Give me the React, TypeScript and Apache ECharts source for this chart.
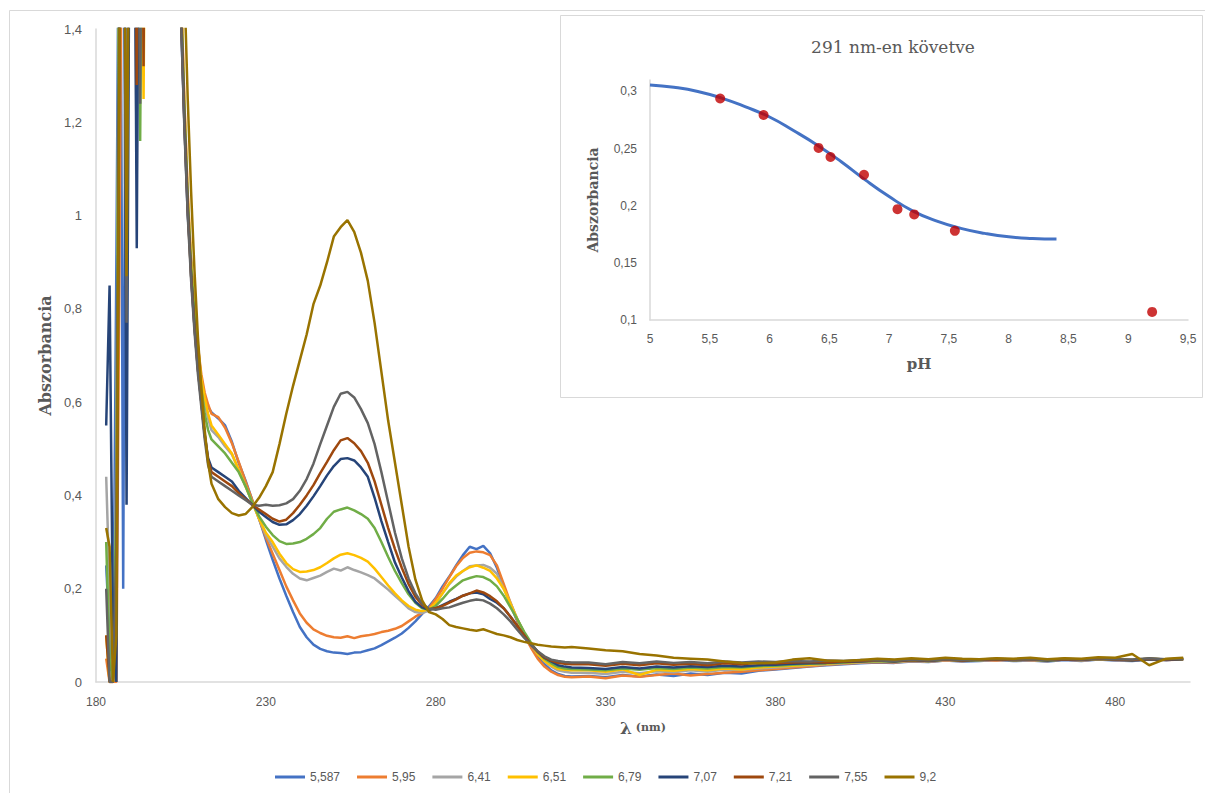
import React, { useEffect, useRef } from 'react';
import * as echarts from 'echarts';

// Wavelengths (nm)
const wavelengths = [
  183, 184, 185, 186, 187, 188, 189, 190, 191, 192, 193, 194, 195, 196,
  198, 200, 202, 204,
  205, 206, 207, 208, 209, 210, 211, 212, 213,
  214,
  216, 218, 220, 222, 224, 226, 228, 230, 232, 234,
  236, 238, 240, 242, 244, 246, 248, 250, 252, 254,
  256, 258, 260, 262, 264, 266, 268, 270, 272, 274,
  276, 278, 280, 282, 284, 286, 288, 290, 292, 294,
  296, 298, 300, 302, 304, 306, 308, 310, 312, 314,
  316, 318, 320,
  325, 330, 335, 340, 345, 350, 355, 360, 365, 370,
  375, 380, 385, 390, 395, 400, 405, 410, 415, 420,
  425, 430, 435, 440, 445, 450, 455, 460, 465, 470,
  475, 480, 485, 490, 495, 500,
];

const abs5587 = [
  0.25, 0.1, 0, 0.9, 2.0, 0.2, 1.9, 2.3, 2.0, 2.4, 2.2, 2.5, 2.6, 2.6,
  2.6, 2.6, 2.6, 2.6,
  1.42, 1.2, 1.0, 0.9, 0.78, 0.7, 0.645, 0.612, 0.59,
  0.578,
  0.565, 0.55, 0.515, 0.47, 0.432, 0.39, 0.35, 0.305, 0.262, 0.222,
  0.185, 0.15, 0.118, 0.096, 0.08, 0.071, 0.066, 0.063, 0.062, 0.06,
  0.063, 0.064, 0.068, 0.072, 0.079, 0.087, 0.095, 0.104, 0.116, 0.13,
  0.146, 0.162, 0.18, 0.205, 0.226, 0.25, 0.272, 0.29, 0.285, 0.292,
  0.276, 0.245, 0.205, 0.165, 0.13, 0.1, 0.077, 0.055, 0.038, 0.025,
  0.017, 0.013, 0.012,
  0.013, 0.01, 0.015, 0.012, 0.016, 0.013, 0.018, 0.015, 0.02, 0.018,
  0.024, 0.027, 0.03, 0.033, 0.036, 0.038, 0.04, 0.042, 0.041, 0.044,
  0.043, 0.046, 0.044, 0.045, 0.047, 0.045, 0.046, 0.044, 0.047, 0.045,
  0.048, 0.046, 0.045, 0.048, 0.047, 0.049,
];

const abs595 = [
  0.05, 0, 0, 0, 1.0, 2.2, 2.0, 2.4, 2.2, 2.5, 2.3, 2.6, 2.4, 2.6,
  2.6, 2.6, 2.6, 2.6,
  1.5, 1.25, 1.05, 0.9, 0.8, 0.72, 0.66, 0.62, 0.595,
  0.575,
  0.568, 0.545, 0.512, 0.472, 0.43, 0.39, 0.35, 0.31, 0.275, 0.24,
  0.205, 0.175, 0.147, 0.127, 0.113, 0.105, 0.099, 0.096, 0.095, 0.098,
  0.094, 0.098, 0.1, 0.103, 0.107, 0.11, 0.114, 0.12, 0.13, 0.14,
  0.148, 0.158, 0.178, 0.2, 0.225, 0.248, 0.266, 0.277, 0.28, 0.278,
  0.272, 0.25, 0.21, 0.17, 0.132, 0.1, 0.074, 0.05, 0.033, 0.022,
  0.015, 0.011, 0.01,
  0.012, 0.008, 0.014, 0.011, 0.015, 0.018, 0.014, 0.017, 0.02, 0.022,
  0.025, 0.028, 0.031, 0.034, 0.037, 0.039, 0.041, 0.043, 0.042, 0.045,
  0.044, 0.046, 0.045, 0.047, 0.046, 0.048, 0.046, 0.045, 0.048, 0.046,
  0.049, 0.047, 0.046, 0.049, 0.047, 0.048,
];

const abs641 = [
  0.44, 0.2, 0, 0.5, 2.0, 2.3, 1.8, 2.1, 1.9, 1.09, 2.2, 2.4, 2.5, 2.6,
  2.6, 2.6, 2.6, 2.6,
  1.46, 1.22, 1.03, 0.89, 0.79, 0.71, 0.64, 0.6, 0.565,
  0.54,
  0.525, 0.505, 0.488, 0.455, 0.42, 0.385, 0.35, 0.315, 0.29, 0.265,
  0.247, 0.232, 0.222, 0.218, 0.223, 0.228, 0.236, 0.243, 0.239, 0.246,
  0.24, 0.235, 0.229, 0.222, 0.21, 0.198, 0.185, 0.172, 0.158, 0.15,
  0.148, 0.153, 0.168, 0.19, 0.21, 0.226, 0.238, 0.248, 0.25, 0.251,
  0.245, 0.232, 0.2, 0.17, 0.135, 0.105, 0.08, 0.06, 0.044, 0.033,
  0.025, 0.022, 0.02,
  0.02, 0.017, 0.022, 0.019, 0.023, 0.021, 0.025, 0.022, 0.027, 0.026,
  0.029, 0.031, 0.034, 0.036, 0.038, 0.04, 0.042, 0.044, 0.043, 0.045,
  0.044, 0.047, 0.045, 0.046, 0.048, 0.046, 0.047, 0.045, 0.048, 0.046,
  0.049, 0.047, 0.046, 0.049, 0.048, 0.05,
];

const abs651 = [
  0.1, 0, 0, 0.3, 1.8, 2.1, 2.3, 1.9, 2.2, 2.4, 2.0, 1.25, 2.3, 2.6,
  2.6, 2.6, 2.6, 2.6,
  1.48, 1.24, 1.04, 0.9, 0.8, 0.72, 0.65, 0.61, 0.575,
  0.55,
  0.53, 0.51, 0.49, 0.455, 0.42, 0.385, 0.35, 0.32, 0.3, 0.275,
  0.255, 0.242, 0.236, 0.237, 0.24, 0.246, 0.255, 0.265, 0.273, 0.276,
  0.272, 0.266, 0.258, 0.243, 0.225, 0.207, 0.19, 0.175, 0.163, 0.155,
  0.152, 0.156, 0.17, 0.19, 0.212, 0.228, 0.238, 0.246, 0.25, 0.245,
  0.238, 0.222, 0.2, 0.168, 0.135, 0.105, 0.082, 0.06, 0.045, 0.035,
  0.028, 0.026, 0.025,
  0.025, 0.022, 0.027, 0.015, 0.026, 0.024, 0.028, 0.025, 0.029, 0.027,
  0.031, 0.033, 0.035, 0.037, 0.039, 0.041, 0.043, 0.045, 0.044, 0.046,
  0.045, 0.048, 0.046, 0.047, 0.049, 0.047, 0.048, 0.046, 0.049, 0.047,
  0.05, 0.048, 0.047, 0.05, 0.048, 0.049,
];

const abs679 = [
  0.3, 0.05, 0, 0.4, 1.9, 2.2, 2.0, 2.3, 2.1, 2.4, 1.16, 2.2, 2.5, 2.6,
  2.6, 2.6, 2.6, 2.6,
  1.47, 1.23, 1.03, 0.89, 0.79, 0.7, 0.63, 0.575, 0.54,
  0.52,
  0.505, 0.49, 0.47, 0.45, 0.42, 0.385, 0.355, 0.333, 0.315, 0.302,
  0.296, 0.297, 0.3, 0.307, 0.317, 0.33, 0.35, 0.365, 0.37, 0.374,
  0.368, 0.36, 0.35, 0.33, 0.3, 0.268, 0.238, 0.212, 0.188, 0.17,
  0.158, 0.155, 0.163, 0.178, 0.195, 0.207, 0.218, 0.223, 0.227, 0.225,
  0.218, 0.205, 0.185, 0.16, 0.135, 0.108, 0.085, 0.064, 0.05, 0.04,
  0.032, 0.029, 0.028,
  0.027, 0.025, 0.029, 0.026, 0.03, 0.028, 0.031, 0.029, 0.032, 0.031,
  0.034, 0.035, 0.037, 0.039, 0.04, 0.042, 0.044, 0.045, 0.044, 0.047,
  0.045, 0.048, 0.046, 0.047, 0.049, 0.047, 0.048, 0.046, 0.049, 0.048,
  0.05, 0.048, 0.047, 0.05, 0.048, 0.05,
];

const abs707 = [
  0.55, 0.85, 0.1, 0, 1.7, 2.1, 0.38, 1.9, 2.2, 0.93, 2.3, 2.4, 2.5, 2.6,
  2.6, 2.6, 2.6, 2.6,
  1.45, 1.21, 1.02, 0.87, 0.76, 0.67, 0.6, 0.53, 0.48,
  0.46,
  0.45, 0.44, 0.43, 0.41, 0.395, 0.38, 0.365, 0.354, 0.343, 0.337,
  0.338, 0.347, 0.36, 0.378, 0.398, 0.42, 0.443, 0.463, 0.478, 0.48,
  0.475, 0.46, 0.44, 0.395, 0.345, 0.3, 0.256, 0.224, 0.195, 0.172,
  0.16, 0.155, 0.158, 0.165, 0.172, 0.178, 0.185, 0.19, 0.192, 0.188,
  0.178, 0.17, 0.158, 0.14, 0.12, 0.1, 0.08, 0.065, 0.052, 0.044,
  0.036, 0.033, 0.031,
  0.03, 0.028, 0.032, 0.029, 0.033, 0.031, 0.034, 0.032, 0.035, 0.033,
  0.036, 0.037, 0.039, 0.04, 0.041, 0.043, 0.044, 0.046, 0.044, 0.047,
  0.045, 0.048, 0.046, 0.047, 0.049, 0.047, 0.048, 0.046, 0.048, 0.047,
  0.05, 0.048, 0.046, 0.049, 0.047, 0.049,
];

const abs721 = [
  0.1, 0, 0, 0.2, 1.5, 2.0, 2.3, 2.1, 2.4, 1.28, 2.5, 1.32, 2.6, 2.6,
  2.6, 2.6, 2.6, 2.6,
  1.44, 1.2, 1.01, 0.87, 0.76, 0.67, 0.6, 0.53, 0.475,
  0.45,
  0.44, 0.43, 0.42, 0.405, 0.392, 0.38, 0.37, 0.36, 0.35, 0.344,
  0.348, 0.362, 0.38, 0.4, 0.422, 0.448, 0.472, 0.497, 0.518, 0.523,
  0.512, 0.495, 0.47, 0.43, 0.38, 0.33, 0.285, 0.245, 0.21, 0.183,
  0.165, 0.156, 0.158, 0.163, 0.17, 0.177, 0.185, 0.19, 0.196, 0.192,
  0.184, 0.173, 0.158, 0.14, 0.12, 0.1, 0.08, 0.065, 0.053, 0.046,
  0.041, 0.039, 0.038,
  0.038, 0.035, 0.039, 0.036, 0.04, 0.037, 0.039, 0.036, 0.04, 0.038,
  0.041, 0.04, 0.042, 0.043, 0.042, 0.044, 0.045, 0.046, 0.045, 0.047,
  0.046, 0.048, 0.046, 0.048, 0.049, 0.047, 0.048, 0.047, 0.049, 0.048,
  0.05, 0.048, 0.047, 0.05, 0.048, 0.05,
];

const abs755 = [
  0.2, 0, 0, 0.3, 1.6, 2.0, 0.77, 2.1, 2.3, 2.2, 1.24, 2.4, 2.5, 2.6,
  2.6, 2.6, 2.6, 2.6,
  1.43, 1.19, 1.0, 0.86, 0.75, 0.66, 0.59, 0.52, 0.465,
  0.44,
  0.43, 0.42, 0.41, 0.4, 0.39, 0.38, 0.378, 0.38, 0.378, 0.379,
  0.383, 0.392, 0.41, 0.435, 0.468, 0.51, 0.55, 0.59, 0.618, 0.622,
  0.61, 0.585, 0.555, 0.51, 0.45, 0.385, 0.32, 0.265, 0.222, 0.19,
  0.168, 0.157, 0.155, 0.158, 0.16, 0.165, 0.17, 0.174, 0.177, 0.175,
  0.168, 0.158, 0.145, 0.13, 0.112, 0.095, 0.08, 0.066, 0.055, 0.048,
  0.045, 0.043, 0.042,
  0.042, 0.038, 0.043, 0.04, 0.044, 0.041, 0.043, 0.04, 0.044, 0.042,
  0.044, 0.043, 0.045, 0.044, 0.046, 0.045, 0.047, 0.046, 0.045, 0.048,
  0.046, 0.049, 0.047, 0.048, 0.05, 0.048, 0.049, 0.047, 0.05, 0.048,
  0.051, 0.049, 0.048, 0.051, 0.049, 0.05,
];

const abs92 = [
  0.33, 0.29, 0, 0.1, 1.5, 2.2, 0.87, 2.0, 2.3, 2.1, 2.4, 2.2, 2.5, 2.6,
  2.6, 2.6, 2.6, 2.6,
  2.0, 1.5, 1.25, 1.05, 0.88, 0.74, 0.63, 0.54, 0.47,
  0.425,
  0.392, 0.375, 0.362, 0.357, 0.36, 0.375, 0.395, 0.42, 0.45, 0.51,
  0.575, 0.635, 0.69, 0.745, 0.81, 0.85, 0.9, 0.955, 0.975, 0.99,
  0.965, 0.92, 0.86, 0.77, 0.665, 0.56, 0.47, 0.38, 0.29, 0.22,
  0.175, 0.15, 0.145, 0.135, 0.122, 0.118, 0.115, 0.112, 0.11, 0.113,
  0.108, 0.103, 0.1, 0.096, 0.09, 0.086, 0.083, 0.08, 0.078, 0.076,
  0.075, 0.074, 0.075,
  0.072, 0.068, 0.066, 0.06, 0.057, 0.052, 0.05, 0.048, 0.044, 0.041,
  0.04, 0.042, 0.048, 0.051, 0.046, 0.045, 0.047, 0.05, 0.048, 0.051,
  0.049, 0.052, 0.05, 0.049, 0.051, 0.05, 0.052, 0.049, 0.051, 0.05,
  0.053, 0.052, 0.06, 0.036, 0.05, 0.052,
];

const seriesNames = ['5,587', '5,95', '6,41', '6,51', '6,79', '7,07', '7,21', '7,55', '9,2'];
const seriesValues = [abs5587, abs595, abs641, abs651, abs679, abs707, abs721, abs755, abs92];
const seriesColors = ['#4472C4', '#ED7D31', '#A5A5A5', '#FFC000', '#70AD47', '#264478', '#9E480E', '#636363', '#997300'];

// Inset: absorbance at 291 nm vs pH
const fitPH = [5, 5.2, 5.4, 5.6, 5.8, 6.0, 6.2, 6.4, 6.6, 6.8, 7.0, 7.2, 7.4, 7.6, 7.8, 8.0, 8.2, 8.4];
const fitAbs = [0.3056, 0.3036, 0.3, 0.2942, 0.2865, 0.2776, 0.2658, 0.253, 0.2385, 0.2226, 0.208, 0.1953, 0.1865, 0.1802, 0.1758, 0.1728, 0.1714, 0.1709];
const pointPH = [5.587, 5.95, 6.41, 6.51, 6.79, 7.07, 7.21, 7.55, 9.2];
const pointAbs = [0.2938, 0.2794, 0.2506, 0.2426, 0.227, 0.197, 0.1924, 0.178, 0.1071];

const SANS = '"Liberation Sans", Arial, sans-serif';
const SERIF = '"DejaVu Serif", serif';
const LABEL = '#595959';
const AXIS = '#D9D9D9';

const comma = (v: number) => String(+Number(v).toFixed(3)).replace('.', ',');

export default function App() {
  const ref = useRef<HTMLDivElement>(null);
  useEffect(() => {
    if (!ref.current) return;
    const chart = echarts.init(ref.current, undefined, { renderer: 'svg' });

    const mainSeries = seriesNames.map((name, k) => ({
      name,
      type: 'line',
      xAxisIndex: 0,
      yAxisIndex: 0,
      data: wavelengths.map((w, i) => [w, seriesValues[k][i]]),
      showSymbol: false,
      symbol: 'none',
      clip: true,
      lineStyle: { color: seriesColors[k], width: 2.5 },
      itemStyle: { color: seriesColors[k] },
      z: 2 + k,
    }));

    const option: any = {
      animation: false,
      backgroundColor: '#ffffff',
      graphic: [
        {
          type: 'rect',
          z: -5,
          shape: { x: 9.5, y: 10.5, width: 1250, height: 850 },
          style: { fill: 'none', stroke: AXIS, lineWidth: 1 },
        },
        {
          type: 'rect',
          z: -4,
          shape: { x: 560.5, y: 15.5, width: 642, height: 382 },
          style: { fill: '#ffffff', stroke: AXIS, lineWidth: 1 },
        },
      ],
      title: {
        text: '291 nm-en követve',
        left: 888,
        top: 33,
        textAlign: 'center',
        textStyle: { fontFamily: SERIF, fontSize: 17, fontWeight: 'normal', color: LABEL },
      },
      legend: {
        data: seriesNames,
        left: 270,
        top: 766,
        icon: 'rect',
        itemWidth: 30,
        itemHeight: 3,
        itemGap: 17,
        textStyle: { fontFamily: SANS, fontSize: 12, color: LABEL },
      },
      grid: [
        { left: 96, right: 15, top: 29, bottom: 111, containLabel: false },
        { left: 650, right: 17, top: 80, bottom: 473, containLabel: false },
      ],
      xAxis: [
        {
          type: 'value',
          gridIndex: 0,
          min: 180,
          max: 502,
          interval: 50,
          axisLine: { show: true, lineStyle: { color: AXIS, width: 1.5 } },
          axisTick: { show: false },
          splitLine: { show: false },
          axisLabel: {
            margin: 14,
            fontFamily: SANS,
            fontSize: 12,
            color: LABEL,
            showMaxLabel: false,
            formatter: (v: number) => ((v - 180) % 50 === 0 ? String(v) : ''),
          },
          name: '{a|λ}{b| (nm)}',
          nameLocation: 'middle',
          nameGap: 37,
          nameTextStyle: {
            rich: {
              a: { fontFamily: SERIF, fontSize: 17, fontWeight: 'bold', color: LABEL },
              b: { fontFamily: SERIF, fontSize: 11, fontWeight: 'bold', color: LABEL },
            },
          },
        },
        {
          type: 'value',
          gridIndex: 1,
          min: 5,
          max: 9.5,
          interval: 0.5,
          axisLine: { show: true, onZero: false, lineStyle: { color: AXIS, width: 1.5 } },
          axisTick: { show: false },
          splitLine: { show: false },
          axisLabel: { margin: 13, fontFamily: SANS, fontSize: 12, color: LABEL, formatter: comma },
          name: 'pH',
          nameLocation: 'middle',
          nameGap: 36,
          nameTextStyle: { fontFamily: SERIF, fontSize: 15, fontWeight: 'bold', color: LABEL },
        },
      ],
      yAxis: [
        {
          type: 'value',
          gridIndex: 0,
          min: 0,
          max: 1.4,
          interval: 0.2,
          axisLine: { show: true, lineStyle: { color: AXIS, width: 1.5 } },
          axisTick: { show: false },
          splitLine: { show: false },
          axisLabel: { margin: 14, fontFamily: SANS, fontSize: 13, color: LABEL, formatter: comma },
          name: 'Abszorbancia',
          nameLocation: 'middle',
          nameRotate: 90,
          nameGap: 43,
          nameTextStyle: { fontFamily: SERIF, fontSize: 16, fontWeight: 'bold', color: LABEL },
        },
        {
          type: 'value',
          gridIndex: 1,
          min: 0.1,
          max: 0.31,
          interval: 0.05,
          axisLine: { show: true, onZero: false, lineStyle: { color: AXIS, width: 1.5 } },
          axisTick: { show: false },
          splitLine: { show: false },
          axisLabel: {
            margin: 13,
            fontFamily: SANS,
            fontSize: 12,
            color: LABEL,
            showMaxLabel: false,
            formatter: (v: number) =>
              Math.abs(v * 20 - Math.round(v * 20)) < 1e-6 ? comma(v) : '',
          },
          name: 'Abszorbancia',
          nameLocation: 'middle',
          nameRotate: 90,
          nameGap: 50,
          nameTextStyle: { fontFamily: SERIF, fontSize: 14, fontWeight: 'bold', color: LABEL },
        },
      ],
      series: [
        ...mainSeries,
        {
          name: 'fit',
          type: 'line',
          xAxisIndex: 1,
          yAxisIndex: 1,
          data: fitPH.map((p, i) => [p, fitAbs[i]]),
          smooth: true,
          showSymbol: false,
          symbol: 'none',
          lineStyle: { color: '#4472C4', width: 3 },
          z: 20,
        },
        {
          name: 'points',
          type: 'scatter',
          xAxisIndex: 1,
          yAxisIndex: 1,
          data: pointPH.map((p, i) => [p, pointAbs[i]]),
          symbol: 'circle',
          symbolSize: 10,
          itemStyle: { color: '#C00000' },
          z: 21,
        },
      ],
    };

    chart.setOption(option);
    return () => chart.dispose();
  }, []);

  return (
    <div
      ref={ref}
      style={{ position: 'absolute', left: 0, top: 0, width: 1205, height: 793 }}
    />
  );
}
